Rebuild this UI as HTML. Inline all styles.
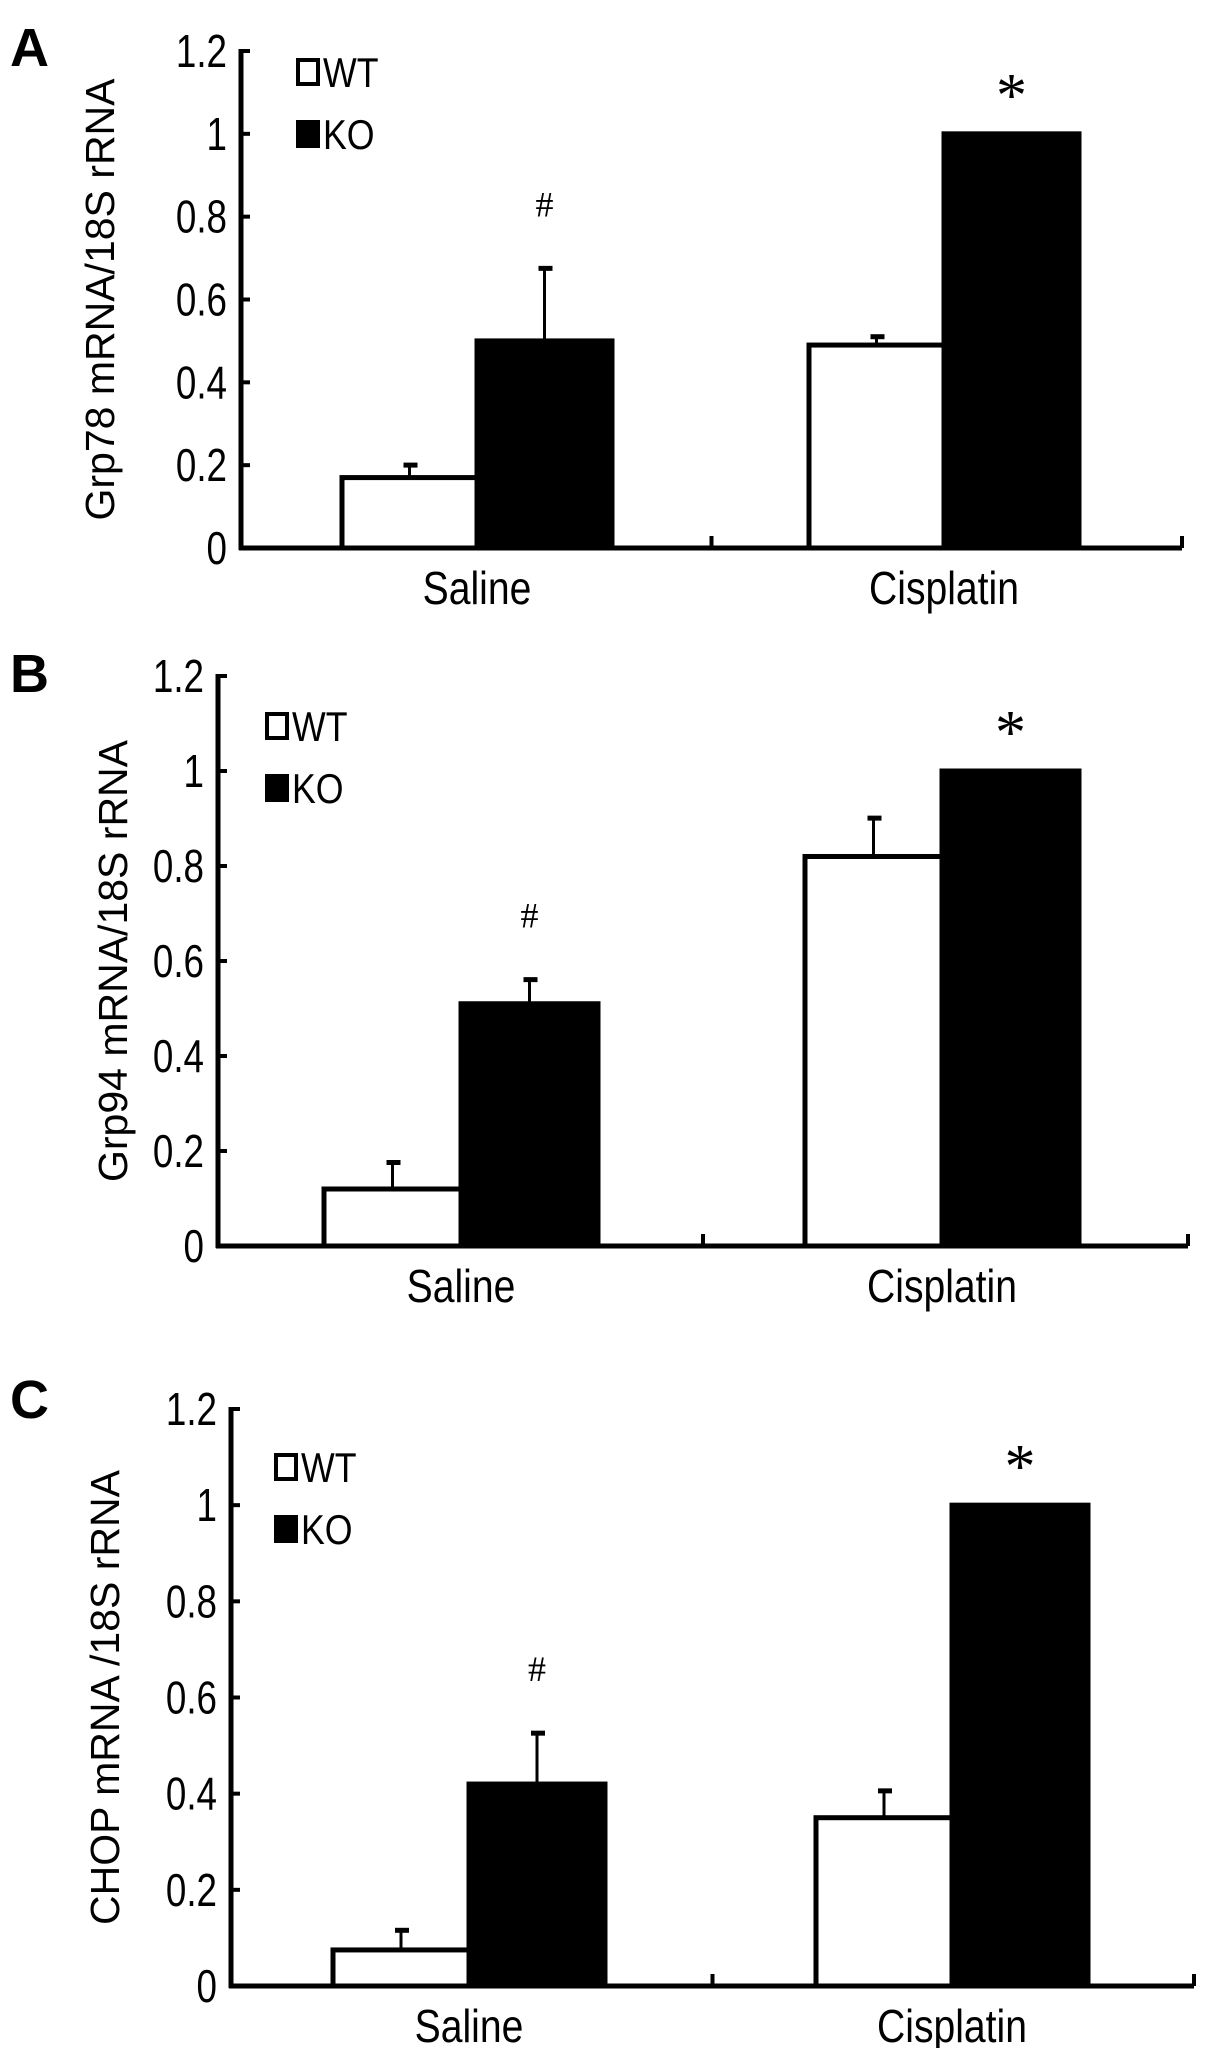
<!DOCTYPE html>
<html><head><meta charset="utf-8">
<style>
html,body{margin:0;padding:0;background:#fff;}
svg{display:block;}
text{font-family:"Liberation Sans",sans-serif;fill:#000;}
</style></head>
<body>
<svg id="fig" width="1205" height="2048" viewBox="0 0 1205 2048"></svg>
<script>
const categories = ["Saline", "Cisplatin"];
const seriesNames = ["WT", "KO"];
const tickLabels = ["0", "0.2", "0.4", "0.6", "0.8", "1", "1.2"];
const tickValues = [0, 0.2, 0.4, 0.6, 0.8, 1.0, 1.2];
// Panel A: Grp78
const aWT = [0.17, 0.49];
const aWTerr = [0.205, 0.515];
const aKO = [0.5, 1.0];
const aKOerr = [0.68, 1.0];
// Panel B: Grp94
const bWT = [0.12, 0.82];
const bWTerr = [0.18, 0.905];
const bKO = [0.51, 1.0];
const bKOerr = [0.565, 1.0];
// Panel C: CHOP
const cWT = [0.075, 0.35];
const cWTerr = [0.12, 0.41];
const cKO = [0.42, 1.0];
const cKOerr = [0.53, 1.0];

const NS = "http://www.w3.org/2000/svg";
const svg = document.getElementById("fig");
function mk(tag, attrs, parent) {
  const e = document.createElementNS(NS, tag);
  for (const k in attrs) e.setAttribute(k, attrs[k]);
  (parent || svg).appendChild(e);
  return e;
}

const panels = [
  {letter:"A", label:"Grp78 mRNA/18S rRNA", wt:aWT, wtE:aWTerr, ko:aKO, koE:aKOerr,
   ax:241, y0:548, y12:51, right:1182, letterX:10, letterY:66, labelX:114, legX:298, legY:58, barW:135, groupL:[342, 809]},
  {letter:"B", label:"Grp94 mRNA/18S rRNA", wt:bWT, wtE:bWTerr, ko:bKO, koE:bKOerr,
   ax:218, y0:1246, y12:676, right:1188, letterX:10, letterY:692, labelX:127, legX:267, legY:712, barW:137, groupL:[324, 805]},
  {letter:"C", label:"CHOP mRNA /18S rRNA", wt:cWT, wtE:cWTerr, ko:cKO, koE:cKOerr,
   ax:231, y0:1986, y12:1409, right:1194, letterX:10, letterY:1418, labelX:119, legX:276, legY:1453, barW:136, groupL:[333, 816]}
];

panels.forEach((p) => {
  const g = mk("g", {});
  
  
  const yS = v => p.y0 - (v / 1.2) * (p.y0 - p.y12);
  const mid = (p.ax + p.right) / 2;

  const lt = mk("text", {x:p.letterX, y:p.letterY, "font-size":54, "font-weight":"bold"}, g);
  lt.textContent = p.letter;
  
  

  const yl = mk("text", {x:0, y:0, "font-size":41, "text-anchor":"middle",
    transform:`translate(${p.labelX},${(p.y0 + p.y12)/2}) rotate(-90)`}, g);
  yl.textContent = p.label;
  
  

  const draw = (vals, errs, isKO) => {
    vals.forEach((v, i) => {
      const x = p.groupL[i] + (isKO ? p.barW : 0);
      const top = yS(v);
      const eTop = yS(errs[i]);
      if (errs[i] > v) {
        const cx = x + p.barW / 2;
        const el = mk("line", {x1:cx, x2:cx, y1:top, y2:eTop, stroke:"#000", "stroke-width":3}, g);
        
        
        const cap = mk("line", {x1:cx-6, x2:cx+8, y1:eTop+2, y2:eTop+2, stroke:"#000", "stroke-width":5}, g);
        
        
      }
      const r = mk("rect", {x:x, y:top, width:p.barW, height:p.y0 - top,
        fill:isKO ? "#000" : "#fff", stroke:"#000", "stroke-width":5}, g);
      
      
    });
  };
  draw(p.wt, p.wtE, false);
  draw(p.ko, p.koE, true);

  const yax = mk("line", {x1:p.ax, x2:p.ax, y1:p.y12 - 2, y2:p.y0 + 2, stroke:"#000", "stroke-width":5}, g);
  
  
  const xax = mk("line", {x1:p.ax - 2, x2:p.right, y1:p.y0, y2:p.y0, stroke:"#000", "stroke-width":5}, g);
  
  
  [mid, p.right].forEach(tx => {
    const t = mk("line", {x1:tx, x2:tx, y1:p.y0, y2:p.y0 - 12, stroke:"#000", "stroke-width":4}, g);
    
    
  });
  tickValues.forEach((v, i) => {
    const y = yS(v);
    const t = mk("line", {x1:p.ax, x2:p.ax + 9, y1:y, y2:y, stroke:"#000", "stroke-width":4}, g);
    
    
    const tl = mk("text", {x:0, y:0, "font-size":46, "text-anchor":"end",
      transform:`translate(${p.ax - 14},${y + 16}) scale(0.8,1)`}, g);
    tl.textContent = tickLabels[i];
    
    
  });
  categories.forEach((c, i) => {
    const cx = p.groupL[i] + p.barW;
    const ct = mk("text", {x:0, y:0, "font-size":46, "text-anchor":"middle",
      transform:`translate(${cx},${p.y0 + 56}) scale(0.85,1)`}, g);
    ct.textContent = c;
    
    
  });
  const hx = p.groupL[0] + p.barW * 1.5;
  const hs = mk("text", {x:hx, y:yS(p.koE[0]) - 50, "font-size":36, "text-anchor":"middle", style:'font-family:"Liberation Serif",serif'}, g);
  hs.textContent = "#";
  
  
  const sx = p.groupL[1] + p.barW * 1.5;
  const st = mk("text", {x:sx, y:yS(p.koE[1]) - 18, "font-size":62, "text-anchor":"middle", style:'font-family:"Liberation Serif",serif'}, g);
  st.textContent = "*";
  
  

  seriesNames.forEach((n, i) => {
    const ly = p.legY + i * 62;
    const b = mk("rect", {x:p.legX, y:ly + 2, width:20, height:24, fill:i ? "#000" : "#fff", stroke:"#000", "stroke-width":4}, g);
    
    
    const lt2 = mk("text", {x:0, y:0, "font-size":42,
      transform:`translate(${p.legX + 25},${ly + 29}) scale(0.85,1)`}, g);
    lt2.textContent = n;
    
    
  });
});
</script>
</body></html>
